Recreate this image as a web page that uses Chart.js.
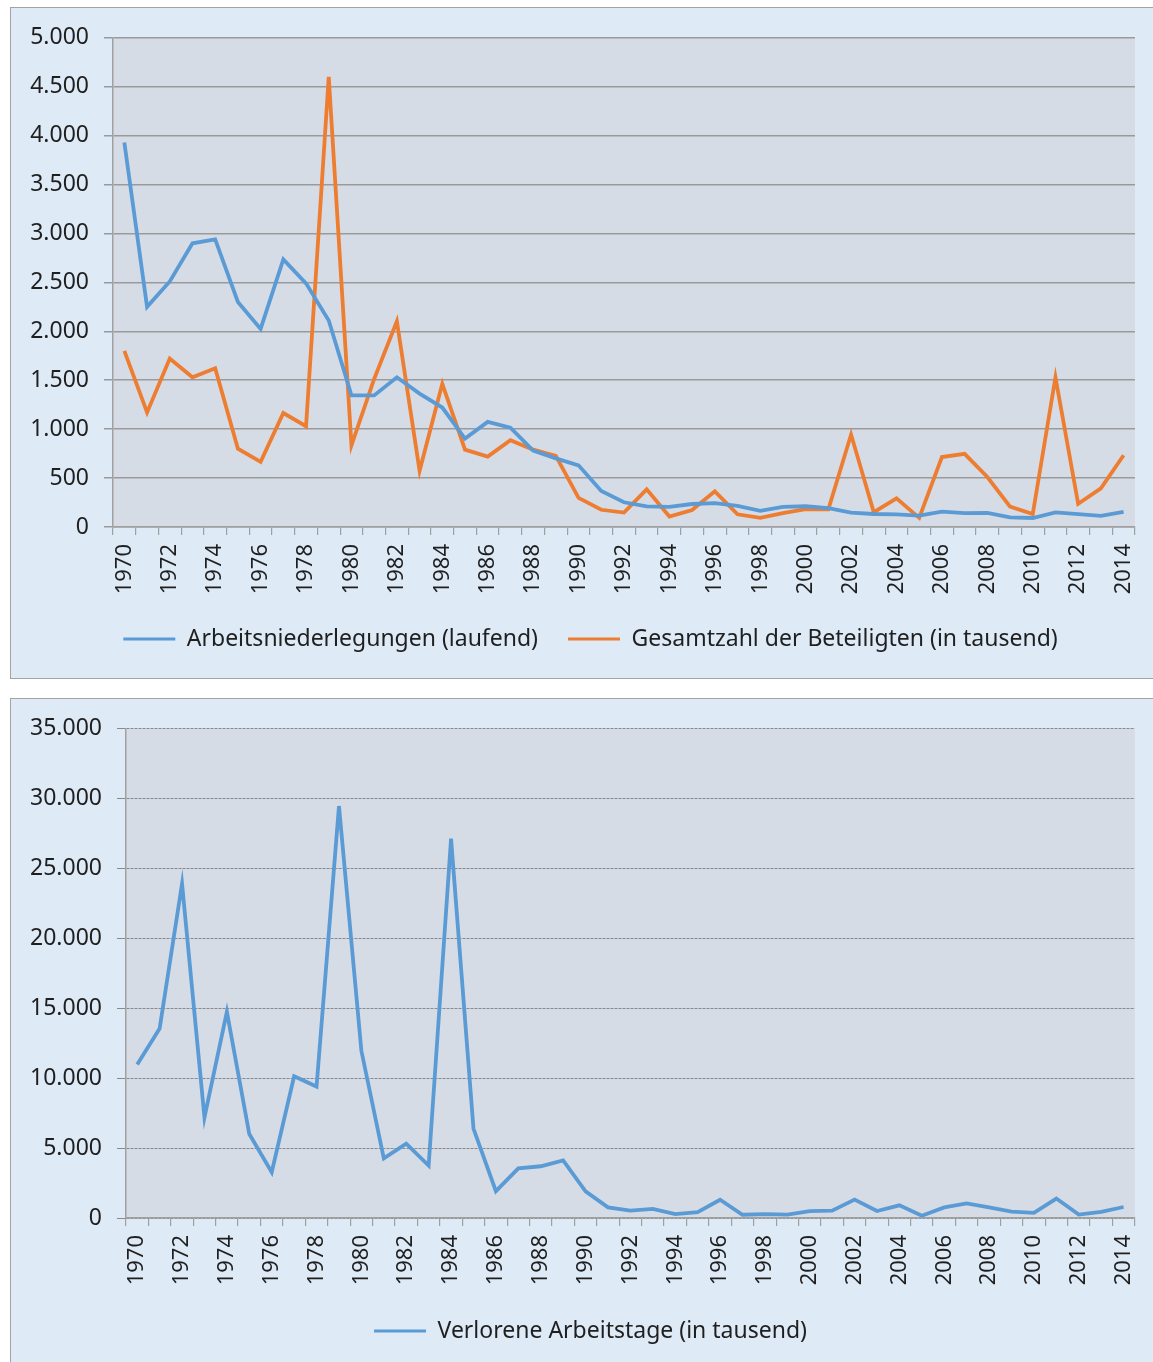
<!DOCTYPE html>
<html><head><meta charset="utf-8">
<script src="https://cdn.jsdelivr.net/npm/chart.js@4.4.1/dist/chart.umd.min.js"></script>
<style>
html,body{margin:0;padding:0;background:#fff;overflow:hidden}
body{width:1153px;height:1362px;position:relative}
.panel{position:absolute;background:#deeaf6;border:1.5px solid #a3a3a3;box-sizing:border-box}
#p1{left:10px;top:7px;width:1170px;height:672px}
#p2{left:10px;top:698px;width:1170px;height:700px}
canvas{position:absolute}
</style></head>
<body>
<div class="panel" id="p1"></div>
<div class="panel" id="p2"></div>
<canvas id="c1" width="1147" height="668" style="left:12px;top:9px"></canvas>
<canvas id="c2" width="1147" height="662" style="left:12px;top:700px"></canvas>
<script>
const years = ['1970','1971','1972','1973','1974','1975','1976','1977','1978','1979','1980','1981','1982','1983','1984','1985','1986','1987','1988','1989','1990','1991','1992','1993','1994','1995','1996','1997','1998','1999','2000','2001','2002','2003','2004','2005','2006','2007','2008','2009','2010','2011','2012','2013','2014'];
const stoppages = [3930,2250,2510,2900,2940,2300,2025,2735,2490,2110,1345,1345,1530,1364,1221,903,1074,1016,781,701,630,369,253,211,205,235,244,216,166,205,212,194,146,133,130,116,158,142,144,98,92,149,131,114,155];
const workers = [1800,1171,1722,1530,1622,800,666,1165,1030,4600,834,1513,2103,574,1464,791,720,887,790,727,298,176,148,385,107,174,364,130,93,141,183,180,945,151,293,93,715,748,511,209,133,1530,237,395,733];
const daysLost = [10980,13551,23909,7197,14750,6012,3284,10142,9405,29474,11964,4266,5313,3754,27135,6402,1920,3546,3702,4128,1903,761,528,649,278,415,1303,235,282,242,499,525,1323,499,905,157,755,1041,759,455,365,1390,249,444,788];
const seriesNames = ['Arbeitsniederlegungen (laufend)','Gesamtzahl der Beteiligten (in tausend)','Verlorene Arbeitstage (in tausend)'];

const FONT = '"Noto Sans", "Open Sans", sans-serif';
const TXT = '#1f1f1f';
const BLUE = '#5b9bd5';
const ORANGE = '#ed7d31';

function fmt(v){ return String(v).replace(/\B(?=(\d{3})+(?!\d))/g,'.'); }

const plotBg = { id:'plotBg', beforeDraw(c){ const a=c.chartArea, x=c.ctx; x.save(); x.fillStyle='#d6dce5'; x.fillRect(a.left,a.top,a.right-a.left,a.bottom-a.top); x.restore(); } };

function makeOptions(cfg){
  return {
    responsive:false, animation:false,
    layout:{ padding:{ left:10, right:0, top:cfg.padTop, bottom:cfg.padBottom } },
    elements:{ point:{ radius:0 }, line:{ tension:0, borderWidth:3.8 } },
    plugins:{
      tooltip:{ enabled:false },
      legend:{
        position:'bottom',
        labels:{
          color:TXT, font:{ family:FONT, size:23 }, boxWidth:52, boxHeight:3, padding:30,
          generateLabels(chart){
            const items = Chart.defaults.plugins.legend.labels.generateLabels(chart);
            items.forEach(i=>{ i.fillStyle=i.strokeStyle; i.lineWidth=0; });
            return items;
          }
        }
      }
    },
    scales:{
      x:{
        type:'category', offset:true,
        afterFit(s){ s.height = cfg.xHeight; },
        grid:{ offset:true, drawOnChartArea:false, drawTicks:true, tickLength:8, color:'#a0a0a0', lineWidth:1.2 },
        border:{ color:'#a0a0a0', width:1.5 },
        ticks:{ autoSkip:false, minRotation:90, maxRotation:90, padding:9, color:TXT, font:{ family:FONT, size:22 },
          callback(v, i){ return i % 2 === 0 ? years[i] : ''; } }
      },
      y:{
        min:0, max:cfg.max,
        afterFit(s){ s.width = cfg.yWidth; },
        grid:{ color:cfg.gridColor, lineWidth:cfg.gridWidth, tickLength:9, drawTicks:true },
        border:{ color:'#a0a0a0', width:1.5, dash:cfg.dash },
        ticks:{ stepSize:cfg.step, padding:15, color:TXT, font:{ family:FONT, size:23 }, callback(v){ return fmt(v); } }
      }
    }
  };
}

new Chart(document.getElementById('c1'), {
  type:'line',
  data:{ labels:years, datasets:[
    { label:seriesNames[0], data:stoppages, borderColor:BLUE, backgroundColor:BLUE },
    { label:seriesNames[1], data:workers, borderColor:ORANGE, backgroundColor:ORANGE }
  ]},
  options: makeOptions({ padTop:28, padBottom:16.5, xHeight:70.5, yWidth:91, max:5000, step:500, gridColor:'#9a9a9a', gridWidth:1.5, dash:[] }),
  plugins:[plotBg]
});

new Chart(document.getElementById('c2'), {
  type:'line',
  data:{ labels:years, datasets:[
    { label:seriesNames[2], data:daysLost, borderColor:BLUE, backgroundColor:BLUE }
  ]},
  options: makeOptions({ padTop:27, padBottom:9.5, xHeight:71.5, yWidth:104, max:35000, step:5000, gridColor:'#8a8a8a', gridWidth:1, dash:[3,1] }),
  plugins:[plotBg]
});
</script>
</body></html>
